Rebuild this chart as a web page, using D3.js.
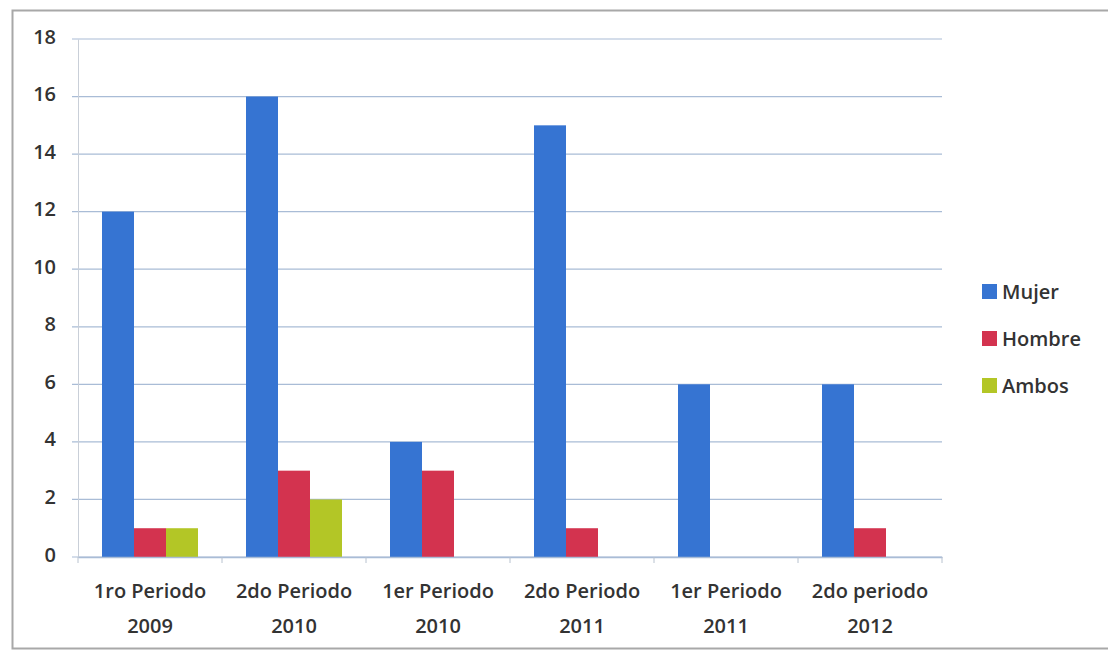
<!DOCTYPE html>
<html>
<head>
<meta charset="utf-8">
<script src="https://cdn.jsdelivr.net/npm/d3@7"></script>
<style>
  body { margin: 0; background: #fff; }
  svg text { font-family: "Open Sans", "Noto Sans", sans-serif; fill: #333; font-weight: 600; }
</style>
</head>
<body>
<svg id="chart" width="1108" height="653"></svg>
<script>
// categories (two-line labels) and series values
const periods = ["1ro Periodo|2009", "2do Periodo|2010", "1er Periodo|2010",
                 "2do Periodo|2011", "1er Periodo|2011", "2do periodo|2012"];
const seriesNames = ["Mujer", "Hombre", "Ambos"];
const mujer  = [12, 16, 4, 15, 6, 6];
const hombre = [1, 3, 3, 1, 0, 1];
const ambos  = [1, 2, 0, 0, 0, 0];
const yTicks = [0, 2, 4, 6, 8, 10, 12, 14, 16, 18];

const colors = ["#3674d2", "#d3334f", "#b3c626"];

let svg = d3.select("#chart");

// outer frame like the Excel chart border
svg.append("rect")
    .attr("x", 12.5).attr("y", 10.5)
    .attr("width", 1120).attr("height", 638)
    .attr("fill", "none")
    .attr("stroke", "#a8a8a8")
    .attr("stroke-width", 2);

let margin = {left: 78, right: 166, top: 39, bottom: 96};
let width = 1108 - margin.left - margin.right,
    height = 653 - margin.top - margin.bottom;

let g = svg.append("g").attr("transform", `translate(${margin.left},${margin.top})`);

let x = d3.scaleBand().domain(periods).range([0, width]).paddingInner(0).paddingOuter(0);
let xs = d3.scaleBand().domain(seriesNames).range([24, x.bandwidth() - 24]);
let y = d3.scaleLinear().domain([0, 18]).range([height, 0]);

// gridlines
g.append("g")
    .selectAll("line")
    .data(yTicks)
    .enter().append("line")
    .attr("x1", -6).attr("x2", width)
    .attr("y1", d => y(d)).attr("y2", d => y(d))
    .attr("stroke", "#a9bcd6")
    .attr("stroke-width", 1.2);

// y axis
let yAxis = g.append("g")
    .call(d3.axisLeft(y).tickValues(yTicks).tickSize(0).tickPadding(22));
yAxis.select(".domain").attr("stroke", "#c9cfd8");
yAxis.selectAll("text").style("font-size", "20px").attr("fill", "#333").attr("dy", "0.2em");

// bars
let values = [mujer, hombre, ambos];
let groups = g.append("g")
    .selectAll("g")
    .data(seriesNames)
    .enter().append("g")
    .attr("fill", (d, i) => colors[i]);

groups.selectAll("rect")
    .data((d, i) => values[i].map((v, j) => ({s: d, cat: periods[j], v: v})))
    .enter().append("rect")
    .attr("x", d => x(d.cat) + xs(d.s))
    .attr("width", xs.bandwidth())
    .attr("y", d => y(d.v))
    .attr("height", d => height - y(d.v));

// x axis
let xAxis = g.append("g")
    .attr("transform", `translate(0,${height})`)
    .call(d3.axisBottom(x).tickSize(0).tickFormat(""));
xAxis.select(".domain").attr("stroke", "#a9bcd6").attr("stroke-width", 1.5);

// category boundary ticks
g.append("g")
    .selectAll("line")
    .data(d3.range(periods.length + 1))
    .enter().append("line")
    .attr("x1", i => i * x.bandwidth()).attr("x2", i => i * x.bandwidth())
    .attr("y1", height).attr("y2", height + 6)
    .attr("stroke", "#b8c2cf");

let labels = g.append("g")
    .selectAll("text")
    .data(periods)
    .enter().append("text")
    .attr("text-anchor", "middle")
    .attr("x", d => x(d) + x.bandwidth() / 2)
    .attr("y", height + 41)
    .style("font-size", "20px");
labels.append("tspan").attr("x", d => x(d) + x.bandwidth() / 2).text(d => d.split("|")[0]);
labels.append("tspan").attr("x", d => x(d) + x.bandwidth() / 2).attr("dy", 35).text(d => d.split("|")[1]);

// legend
let legend = svg.append("g")
    .selectAll("g")
    .data(seriesNames)
    .enter().append("g")
    .attr("transform", (d, i) => `translate(982,${284 + i * 47})`);
legend.append("rect")
    .attr("width", 15).attr("height", 15)
    .attr("fill", (d, i) => colors[i]);
legend.append("text")
    .attr("x", 20).attr("y", 15)
    .style("font-size", "20px")
    .text(d => d);
</script>
</body>
</html>
